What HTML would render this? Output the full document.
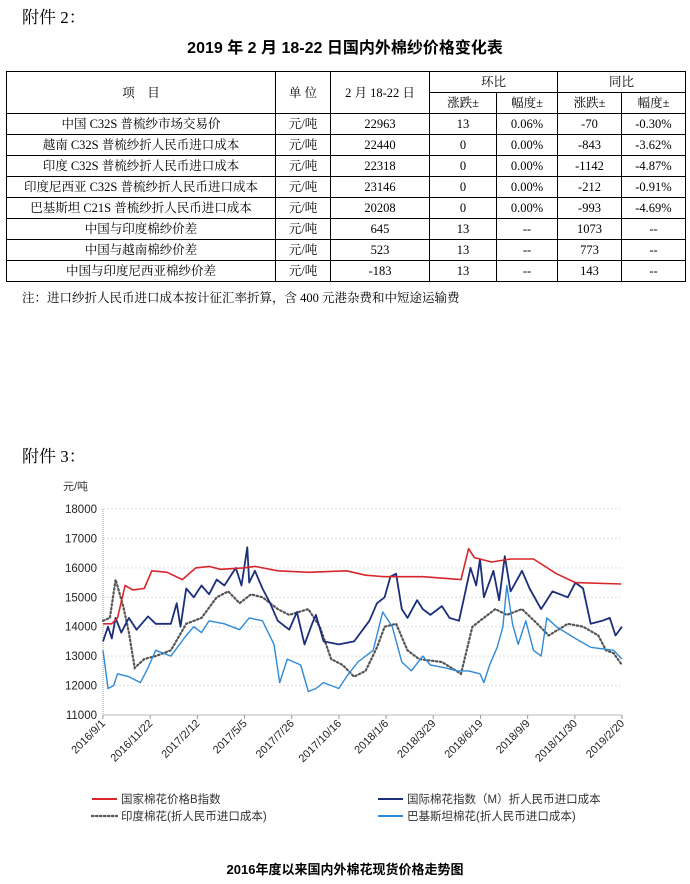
<!DOCTYPE html>
<html><head><meta charset="utf-8">
<style>
body{margin:0;width:690px;height:884px;background:#fff;position:relative;font-family:"Liberation Serif","Noto Serif CJK SC",serif;color:#000;overflow:hidden}
.abs{position:absolute;white-space:nowrap}
table{position:absolute;left:6px;top:71px;border-collapse:collapse;table-layout:fixed;font-size:12.5px;font-family:"Liberation Serif","Noto Serif CJK SC",serif}
td{border:1px solid #000;text-align:center;padding:0;height:20px;line-height:20px;white-space:nowrap;overflow:hidden}
</style></head><body>
<div class="abs" style="left:22px;top:3px;font-size:17px;">附件 2：</div>
<div class="abs" style="left:0;width:690px;text-align:center;top:34px;font-size:16px;font-weight:bold;font-family:'Liberation Sans','Noto Sans CJK SC',sans-serif">2019 年 2 月 18-22 日国内外棉纱价格变化表</div>
<table>
<colgroup><col style="width:269px"><col style="width:55px"><col style="width:99px"><col style="width:67px"><col style="width:61px"><col style="width:64px"><col style="width:64px"></colgroup>
<tr><td rowspan="2">项　目</td><td rowspan="2">单 位</td><td rowspan="2">2 月 18-22 日</td><td colspan="2">环比</td><td colspan="2">同比</td></tr>
<tr><td>涨跌±</td><td>幅度±</td><td>涨跌±</td><td>幅度±</td></tr>
<tr><td>中国 C32S 普梳纱市场交易价</td><td>元/吨</td><td>22963</td><td>13</td><td>0.06%</td><td>-70</td><td>-0.30%</td></tr>
<tr><td>越南 C32S 普梳纱折人民币进口成本</td><td>元/吨</td><td>22440</td><td>0</td><td>0.00%</td><td>-843</td><td>-3.62%</td></tr>
<tr><td>印度 C32S 普梳纱折人民币进口成本</td><td>元/吨</td><td>22318</td><td>0</td><td>0.00%</td><td>-1142</td><td>-4.87%</td></tr>
<tr><td>印度尼西亚 C32S 普梳纱折人民币进口成本</td><td>元/吨</td><td>23146</td><td>0</td><td>0.00%</td><td>-212</td><td>-0.91%</td></tr>
<tr><td>巴基斯坦 C21S 普梳纱折人民币进口成本</td><td>元/吨</td><td>20208</td><td>0</td><td>0.00%</td><td>-993</td><td>-4.69%</td></tr>
<tr><td>中国与印度棉纱价差</td><td>元/吨</td><td>645</td><td>13</td><td>--</td><td>1073</td><td>--</td></tr>
<tr><td>中国与越南棉纱价差</td><td>元/吨</td><td>523</td><td>13</td><td>--</td><td>773</td><td>--</td></tr>
<tr><td>中国与印度尼西亚棉纱价差</td><td>元/吨</td><td>-183</td><td>13</td><td>--</td><td>143</td><td>--</td></tr>
</table>
<div class="abs" style="left:22px;top:288px;font-size:12.5px;">注：进口纱折人民币进口成本按计征汇率折算，含 400 元港杂费和中短途运输费</div>
<div class="abs" style="left:22px;top:442px;font-size:17px;">附件 3：</div>
<svg id="c" class="abs" style="left:0;top:0" width="690" height="884" font-family="'Liberation Sans','Noto Sans CJK SC',sans-serif"></svg>
<div class="abs" style="left:0;width:690px;text-align:center;top:859px;font-size:13px;font-weight:bold;font-family:'Liberation Sans','Noto Sans CJK SC',sans-serif">2016年度以来国内外棉花现货价格走势图</div>
<script>
var s='';
function X(zx){return 103+(zx-162)*519/1360;}
function Y(v){return 509+(18000-v)*206/7000;}
s+='<text x="63" y="490" font-size="11" fill="#333">元/吨</text>';
for(var v=11000;v<=18000;v+=1000){var y=Y(v);
 if(v>11000)s+='<line x1="103" x2="622" y1="'+y+'" y2="'+y+'" stroke="#ddd" stroke-dasharray="2,2"/>';
 s+='<text x="97" y="'+(y+4)+'" font-size="11.5" text-anchor="end" fill="#222">'+v+'</text>';}
s+='<line x1="103" x2="103" y1="509" y2="715" stroke="#999" stroke-dasharray="1,1"/>';
s+='<line x1="103" x2="622" y1="715" y2="715" stroke="#bbb"/>';
var lab=['2016/9/1','2016/11/22','2017/2/12','2017/5/5','2017/7/26','2017/10/16','2018/1/6','2018/3/29','2018/6/19','2018/9/9','2018/11/30','2019/2/20'];
for(var i=0;i<12;i++){var x=103+i*519/11;
 s+='<line x1="'+x+'" x2="'+x+'" y1="715" y2="719" stroke="#999"/>';
 s+='<text transform="translate('+(x+3)+',724) rotate(-45)" font-size="11" text-anchor="end" fill="#222">'+lab[i]+'</text>';}
function P(a,c,w,d){var p=[];for(var i=0;i<a.length;i+=2)p.push(X(a[i]).toFixed(1)+','+Y(a[i+1]).toFixed(1));
 s+='<polyline fill="none" stroke="'+c+'" stroke-width="'+w+'" '+(d?'stroke-dasharray="1.5,2.5" stroke-linecap="round"':'stroke-linejoin="round"')+' points="'+p.join(' ')+'"/>';}
var gray=[162,14200,180,14300,195,15600,215,14700,230,13800,245,12600,270,12900,300,13000,340,13200,380,14100,420,14300,460,15000,490,15200,520,14800,550,15100,580,15000,620,14600,650,14400,700,14600,730,14000,760,12900,790,12700,820,12300,850,12500,880,13300,900,14000,930,14100,960,13200,990,12900,1050,12800,1100,12400,1130,14000,1150,14200,1190,14600,1220,14400,1260,14600,1300,14100,1330,13700,1380,14100,1420,14000,1460,13700,1480,13200,1500,13100,1522,12700];
var lb=[162,13200,175,11900,190,12000,200,12400,230,12300,260,12100,280,12600,300,13200,340,13000,380,13700,400,14000,420,13800,440,14200,480,14100,520,13900,545,14300,580,14200,610,13400,625,12100,645,12900,680,12700,700,11800,720,11900,740,12100,780,11900,800,12300,830,12800,870,13200,895,14500,920,14000,945,12800,970,12500,1000,13000,1020,12700,1060,12600,1090,12500,1120,12500,1150,12400,1160,12100,1175,12700,1195,13300,1210,14000,1220,15400,1235,14100,1250,13400,1270,14200,1290,13200,1310,13000,1325,14300,1350,14000,1400,13600,1440,13300,1500,13200,1522,12900];
var navy=[162,13500,175,14000,185,13600,195,14300,210,13800,230,14300,250,13900,280,14350,300,14100,340,14100,355,14800,365,14000,380,15300,400,15000,420,15400,440,15100,460,15600,480,15400,510,16000,525,15400,540,16700,545,15500,560,15900,580,15300,600,14800,620,14200,650,13900,670,14500,690,13400,710,14100,720,14400,740,13500,780,13400,820,13500,860,14200,880,14800,900,15000,915,15700,930,15800,945,14600,960,14300,985,14900,1000,14600,1020,14400,1050,14700,1070,14300,1095,14200,1110,15100,1125,16000,1140,15400,1150,16300,1160,15000,1185,15900,1200,14900,1215,16400,1230,15200,1260,15900,1280,15300,1310,14600,1340,15200,1380,15000,1400,15500,1420,15300,1440,14100,1470,14200,1490,14300,1505,13700,1522,14000];
var red=[162,14100,185,14100,200,14300,220,15400,240,15250,270,15300,290,15900,330,15850,370,15600,405,16000,440,16050,470,15950,530,16000,560,16050,620,15900,700,15850,800,15900,850,15750,900,15700,1000,15700,1100,15600,1120,16650,1135,16350,1180,16200,1230,16300,1290,16300,1350,15800,1400,15500,1520,15450];
P(gray,'#555',2.2,true);P(lb,'#2e8ad8',1.4);P(navy,'#1b2f7a',1.8);P(red,'#d8262b',1.6);
s+='<line x1="92" x2="117" y1="799" y2="799" stroke="#d8262b" stroke-width="2"/><text x="121" y="803" font-size="11.5" fill="#333">国家棉花价格B指数</text>';
s+='<line x1="92" x2="117" y1="816" y2="816" stroke="#555" stroke-width="2.2" stroke-dasharray="1.5,2.5" stroke-linecap="round"/><text x="121" y="820" font-size="11.5" fill="#333">印度棉花(折人民币进口成本)</text>';
s+='<line x1="378" x2="403" y1="799" y2="799" stroke="#1b2f7a" stroke-width="2"/><text x="407" y="803" font-size="11.5" fill="#333">国际棉花指数（M）折人民币进口成本</text>';
s+='<line x1="378" x2="403" y1="816" y2="816" stroke="#2e8ad8" stroke-width="2"/><text x="407" y="820" font-size="11.5" fill="#333">巴基斯坦棉花(折人民币进口成本)</text>';
document.getElementById('c').innerHTML=s;
</script>
</body></html>
